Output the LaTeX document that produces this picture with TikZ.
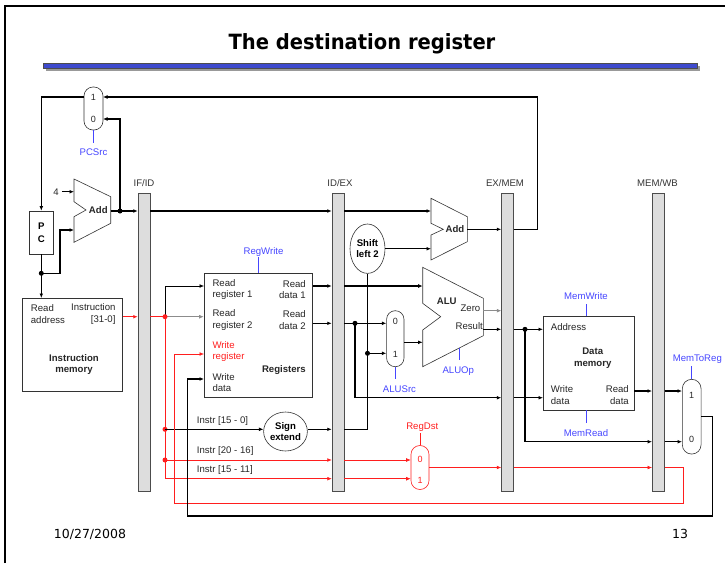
\documentclass[tikz,border=0pt]{standalone}
\usepackage{fontspec}
\setmainfont{Liberation Sans}
\newfontfamily\slidefont{DejaVu Sans}
\usetikzlibrary{arrows.meta}
\usetikzlibrary{calc}
\usetikzlibrary{positioning}
\usetikzlibrary{shapes.geometric}

\definecolor{ctrlblue}{RGB}{70,70,255}
\definecolor{pathred}{RGB}{255,30,30}
\definecolor{bargray}{RGB}{221,221,221}
\definecolor{titleblue}{RGB}{62,74,205}

\newcommand{\labelsize}{\fontsize{9.6}{11.6}\selectfont}

\tikzset{
  unit/.style={draw=black!80, line width=0.6pt, fill=white, inner sep=0pt},
  pipereg/.style={draw=black!70, fill=bargray, line width=0.5pt, minimum width=12pt, minimum height=298pt, inner sep=0pt},
  mux/.style={draw=black!80, line width=0.6pt, inner sep=0pt},
  muxnum/.style={inner sep=0pt, font=\fontsize{9}{10}\selectfont, text=black!85},
  lbl/.style={inner sep=0pt, text=black!85},
  bold/.style={inner sep=0pt, font=\labelsize\bfseries, text=black!85},
  barlabel/.style={inner sep=0pt, text=black!80},
  ctrl/.style={draw=ctrlblue, line width=0.6pt},
  ctrltext/.style={inner sep=0pt, text=ctrlblue},
  wire/.style={line width=1.3pt},
  thinwire/.style={line width=0.6pt},
  greywire/.style={line width=0.6pt, draw=black!45},
  redwire/.style={line width=0.6pt, draw=pathred},
  redthick/.style={line width=1.3pt, draw=pathred}
}

\begin{document}
\begin{tikzpicture}[x=1pt, y=-1pt, >={Latex[length=4.5pt,width=3.8pt]}, font=\labelsize]
    \useasboundingbox (0,0) rectangle (725,563);

    % Marco y titulo
    \draw[line width=1.2pt] (5,563) -- (5,6) -- (725,6);
    \node[font=\slidefont\bfseries\fontsize{21}{24}\selectfont] (title) at (362,44) {\scalebox{.93}[1]{The destination register}};
    \fill[black!40] (46,66) rectangle (700,71);
    \filldraw[fill=titleblue, draw=black!70, line width=0.5pt] (43,63) rectangle (697,68);

    % Registros de segmentacion
    \node[pipereg] (IFID) at (144,342) {};
    \node[pipereg] (IDEX) at (338,342) {};
    \node[pipereg] (EXMEM) at (507.5,342) {};
    \node[pipereg] (MEMWB) at (658.3,342) {};
    \node[barlabel] at (144,183.5) {IF/ID};
    \node[barlabel] at (340,183.5) {ID/EX};
    \node[barlabel] at (505,183.5) {EX/MEM};
    \node[barlabel] at (657.5,183.5) {MEM/WB};

    % PC, sumador y multiplexor PCSrc
    \node[unit, minimum width=24pt, minimum height=43pt, font=\labelsize\bfseries, align=center] (PC) at (41.3,232.5) {P\\[1pt]C};
    \draw[unit] (74,179) -- (110.7,196.7) -- (110.7,223.3) -- (74,242.3) -- (74,216.7) -- (86,210) -- (74,201.7) -- cycle;
    \node[bold] at (98.3,210) {Add};
    \coordinate (A1a) at (74,191.7);
    \coordinate (A1b) at (74,230);
    \coordinate (A1o) at (110.7,211);
    \node[lbl] (four) at (56,191.7) {4};
    \draw[wire,->] ([xshift=3pt]four.east) -- (A1a);

    \node[mux, minimum width=19pt, minimum height=43pt, rounded corners=9pt] (MPC) at (93.5,108.5) {};
    \node[muxnum] at (93.5,97.5) {1};
    \node[muxnum] at (93.5,119) {0};
    \coordinate (M1in) at (103,97);
    \coordinate (M0in) at (103,119);
    \coordinate (Mout) at (84,97);
    \draw[ctrl] (MPC.south) -- ++(0,13);
    \node[ctrltext] at (93.5,152) {PCSrc};

    \coordinate (J1) at (120,211);
    \draw[wire] (A1o) -- (J1);
    \draw[wire,->] (J1) -- (J1 -| IFID.west);
    \draw[wire,->] (J1) |- (M0in);
    \fill (J1) circle (2.5);
    \draw[wire,->] (Mout) -| (PC.north);

    % Memoria de instrucciones
    \node[unit, minimum width=100pt, minimum height=93.4pt] (IM) at (72.7,345) {};
    \node[lbl, anchor=west, align=left] at (30.7,314.3) {Read\\address};
    \node[lbl, anchor=east, align=right] at (115.7,314.3) {Instruction\\{}[31-0]};
    \node[bold, align=center] at (74,364.5) {Instruction\\memory};
    \coordinate (J2) at (41.3,273.3);
    \draw[wire,->] (PC.south) -- (PC.south |- IM.north);
    \fill (J2) circle (2.5);
    \draw[wire,->] (J2) -- ++(18.7,0) |- (A1b);

    % Banco de registros
    \node[unit, minimum width=108.7pt, minimum height=124.4pt] (RF) at (258.35,335.5) {};
    \node[lbl, anchor=west, align=left] at (212.3,289.7) {Read\\register 1};
    \node[lbl, anchor=west, align=left] at (212.3,320.3) {Read\\register 2};
    \node[lbl, anchor=west, align=left, text=pathred] at (212.3,351.5) {Write\\register};
    \node[lbl, anchor=west, align=left] at (212.3,382.5) {Write\\data};
    \node[lbl, anchor=east, align=right] at (306,289.7) {Read\\data 1};
    \node[lbl, anchor=east, align=right] at (306,320.3) {Read\\data 2};
    \node[bold, anchor=east] at (306,370.3) {Registers};
    \draw[ctrl] (RF.north) -- ++(0,-16);
    \node[ctrltext] at (263.5,252.3) {RegWrite};

    % Instruccion hacia el banco
    \coordinate (IMo) at (122.7,316.7);
    \coordinate (J3) at (165,316.7);
    \coordinate (J4) at (165,429.3);
    \coordinate (J5) at (165,460);
    \coordinate (J6) at (165,478.7);
    \coordinate (RR1) at (204,286);
    \draw[redthick,->] (IMo) -- (IMo -| IFID.west);
    \draw[redthick] (IMo -| IFID.east) -- (J3);
    \draw[greywire,->] (J3) -- (J3 -| RF.west);
    \draw[thinwire,->] (J3) |- (RR1);
    \draw[redwire] (J3) -- (J6);
    \fill[pathred] (J3) circle (2.5);
    \fill[pathred] (J4) circle (2.5);
    \fill[pathred] (J5) circle (2.5);

    % Extension de signo
    \node[unit, ellipse, minimum width=37.6pt, minimum height=39pt, font=\labelsize\bfseries, align=center] (SE) at (285.5,431.5) {Sign\\extend};
    \draw[thinwire,->] (J4) -- (SE.west |- J4);
    \node[lbl, anchor=west] at (196.7,420.7) {Instr [15 - 0]};
    \node[lbl, anchor=west] at (196.7,451) {Instr [20 - 16]};
    \node[lbl, anchor=west] at (196.7,470) {Instr [15 - 11]};
    \draw[redwire,->] (J5) -- (J5 -| IDEX.west);
    \draw[redwire,->] (J6) -- (J6 -| IDEX.west);

    % Salidas del banco
    \coordinate (RD1) at (312.7,286);
    \coordinate (RD2) at (312.7,323.3);
    \coordinate (ALUa) at (422.7,286);
    \draw[wire,->] (RD1) -- (RD1 -| IDEX.west);
    \draw[wire,->] (RD1 -| IDEX.east) -- (ALUa);
    \draw[wire,->] (RD2) -- (RD2 -| IDEX.west);

    % Desplazamiento y sumador de salto
    \node[unit, ellipse, minimum width=35pt, minimum height=49.4pt, font=\labelsize\bfseries, align=center] (SL) at (367.5,248.7) {Shift\\left 2};
    \draw[unit] (431,198.3) -- (467.3,216.7) -- (467.3,241.7) -- (431,260) -- (431,235) -- (443.3,229.3) -- (431,223.3) -- cycle;
    \node[bold] at (455,229.3) {Add};
    \coordinate (A2a) at (431,211);
    \coordinate (A2b) at (431,248.7);
    \coordinate (A2o) at (467.3,229.3);
    \coordinate (BR) at (537.3,229.3);
    \draw[wire,->] (J1 -| IFID.east) -- (J1 -| IDEX.west);
    \draw[wire,->] (J1 -| IDEX.east) -- (A2a);
    \draw[wire,->] (SL.east) -- (A2b);
    \draw[wire,->] (A2o) -- (A2o -| EXMEM.west);
    \draw[wire,->] (A2o -| EXMEM.east) -- (BR) |- (M1in);

    % Multiplexor ALUSrc
    \node[mux, minimum width=17.4pt, minimum height=56pt, rounded corners=8.6pt] (MS) at (395.3,338.7) {};
    \node[muxnum] at (395.3,321.5) {0};
    \node[muxnum] at (395.3,354.3) {1};
    \draw[ctrl] (MS.south) -- ++(0,11.6);
    \node[ctrltext] at (399.5,389) {ALUSrc};
    \coordinate (J7) at (355,323.3);
    \coordinate (K1) at (355,397.7);
    \coordinate (J8) at (367.5,353.3);
    \draw[wire,->] (RD2 -| IDEX.east) -- (RD2 -| MS.west);
    \fill (J7) circle (2.5);
    \draw[wire,->] (J7) -- (K1) -- (K1 -| EXMEM.west);
    \draw[wire,->] (SE.east |- J4) -- (J4 -| IDEX.west);
    \draw[wire] (J4 -| IDEX.east) -| (SL.south);
    \fill (J8) circle (2.5);
    \draw[wire,->] (J8) -- (J8 -| MS.west);

    % ALU
    \draw[unit] (422.7,267.3) -- (483.3,298.3) -- (483.3,335.7) -- (422.7,366.7) -- (422.7,330) -- (440.7,316.7) -- (422.7,303.3) -- cycle;
    \node[bold] at (446.7,301) {ALU};
    \node[lbl, anchor=east] at (480.5,308.3) {Zero};
    \node[lbl, anchor=east] at (483,326) {Result};
    \coordinate (ALUb) at (422.7,342.3);
    \coordinate (ALUc) at (459,348.1);
    \coordinate (Zo) at (483.3,310.7);
    \coordinate (Ro) at (483.3,329.3);
    \draw[wire,->] (ALUb -| MS.east) -- (ALUb);
    \draw[ctrl] (ALUc) -- ++(0,12);
    \node[ctrltext] at (458.3,371) {ALUOp};
    \draw[greywire,->] (Zo) -- (Zo -| EXMEM.west);
    \draw[wire,->] (Ro) -- (Ro -| EXMEM.west);

    % Memoria de datos
    \node[unit, minimum width=91pt, minimum height=93.3pt] (DM) at (588.8,363.35) {};
    \node[lbl, anchor=west] at (550.7,326.7) {Address};
    \node[bold, align=center] at (592.7,358.3) {Data\\memory};
    \node[lbl, anchor=west, align=left] at (550.7,395.2) {Write\\data};
    \node[lbl, anchor=east, align=right] at (629,395.2) {Read\\data};
    \draw[ctrl] ([xshift=-2.8pt]DM.north) -- ++(0,-12.4);
    \node[ctrltext] at (586,295.7) {MemWrite};
    \draw[ctrl] ([xshift=-2.8pt]DM.south) -- ++(0,12.3);
    \node[ctrltext] at (586,433.3) {MemRead};
    \coordinate (J9) at (525,329.3);
    \coordinate (K2) at (525,441.7);
    \coordinate (DMo) at (634.3,391);
    \draw[wire,->] (Ro -| EXMEM.east) -- (Ro -| DM.west);
    \fill (J9) circle (2.5);
    \draw[wire,->] (K1 -| EXMEM.east) -- (K1 -| DM.west);

    % Multiplexor MemToReg
    \node[mux, minimum width=18.7pt, minimum height=74.7pt, rounded corners=9.2pt] (MTR) at (691.7,416.7) {};
    \node[muxnum] at (691.7,395.7) {1};
    \node[muxnum] at (691.7,439) {0};
    \draw[ctrl] (MTR.north) -- ++(0,-12.6);
    \node[ctrltext] at (697.3,359) {MemToReg};
    \draw[wire,->] (DMo) -- (DMo -| MEMWB.west);
    \draw[wire,->] (DMo -| MEMWB.east) -- (DMo -| MTR.west);
    \draw[wire,->] (J9) -- (K2) -- (K2 -| MEMWB.west);
    \draw[wire,->] (K2 -| MEMWB.east) -- (K2 -| MTR.west);

    % Multiplexor RegDst
    \node[mux, draw=pathred, minimum width=18pt, minimum height=44pt, rounded corners=8.9pt] (RD) at (420,467.5) {};
    \node[muxnum, text=pathred] at (420,459) {0};
    \node[muxnum, text=pathred] at (420,480) {1};
    \draw[redwire] (RD.north) -- ++(0,-12.4);
    \node[ctrltext, text=pathred] at (422.3,426.7) {RegDst};
    \draw[redwire,->] (J5 -| IDEX.east) -- (J5 -| RD.west);
    \draw[redwire,->] (J6 -| IDEX.east) -- (J6 -| RD.west);
    \draw[redwire,->] (RD.east) -- (RD.east -| EXMEM.west);
    \draw[redwire,->] (RD.east -| EXMEM.east) -- (RD.east -| MEMWB.west);

    % Escritura en el banco
    \coordinate (WR) at (204,354);
    \coordinate (WD) at (204,379);
    \coordinate (WB1) at (174.3,503.3);
    \coordinate (WB2) at (187.3,516);
    \draw[redwire,->] (RD.east -| MEMWB.east) -- ++(18.7,0) |- (WB1) |- (WR);
    \draw[wire,->] (MTR.east) -- ++(11.3,0) |- (WB2) |- (WD);

    % Pie
    \node[font=\slidefont\fontsize{12.5}{14}\selectfont] at (90,534) {10/27/2008};
    \node[font=\slidefont\fontsize{12.5}{14}\selectfont] at (680,534) {13};
\end{tikzpicture}
\end{document}
